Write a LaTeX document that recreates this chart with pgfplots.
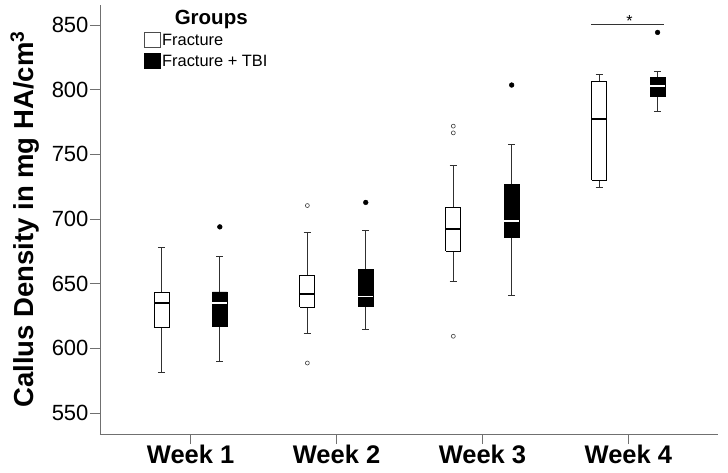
\documentclass[border=0pt]{standalone}
\usepackage{fontspec}
\setmainfont{Liberation Sans}
\usepackage{pgfplots}
\pgfplotsset{compat=1.18}
\definecolor{axisgray}{HTML}{707070}
\definecolor{whisk}{HTML}{303030}
% #1 centre, #2 lower whisker, #3 Q1, #4 median, #5 Q3, #6 upper whisker, #7 fill, #8 median colour
\newcommand\drawbox[8]{%
  \pgfmathsetmacro\bxl{#1-0.0515}%
  \pgfmathsetmacro\bxr{#1+0.0515}%
  \pgfmathsetmacro\cxl{#1-0.025}%
  \pgfmathsetmacro\cxr{#1+0.025}%
  \edef\tmpbox{%
    \noexpand\addplot[whisk, line width=0.9pt] coordinates {(#1,#5) (#1,#6)};
    \noexpand\addplot[whisk, line width=0.9pt] coordinates {(#1,#3) (#1,#2)};
    \noexpand\addplot[whisk, line width=0.9pt] coordinates {(\cxl,#6) (\cxr,#6)};
    \noexpand\addplot[whisk, line width=0.9pt] coordinates {(\cxl,#2) (\cxr,#2)};
    \noexpand\addplot[draw=black, fill=#7, line width=0.8pt] coordinates {(\bxl,#3) (\bxr,#3) (\bxr,#5) (\bxl,#5) (\bxl,#3)};
    \noexpand\addplot[#8, line width=1.8pt] coordinates {(\bxl,#4) (\bxr,#4)};
  }\tmpbox}
\begin{document}
\begin{tikzpicture}
\begin{axis}[
  at={(0,0)}, anchor=south west,
  scale only axis, width=618pt, height=429pt,
  xmin=0.379, xmax=4.614, ymin=533.7, ymax=865.5,
  axis lines=left, axis line style={axisgray, line width=0.8pt, -},
  xtick={1,2,3,4}, xticklabels={Week 1,Week 2,Week 3,Week 4},
  ytick={550,600,650,700,750,800,850},
  tick align=outside, major tick length=10pt,
  tick style={axisgray, line width=0.8pt},
  x tick label style={font=\bfseries\fontsize{25.5}{25.5}\selectfont, yshift=3pt},
  y tick label style={font=\fontsize{22}{22}\selectfont, xshift=2pt},
  /pgf/number format/assume math mode=true,
  ylabel={\bfseries Callus Density in mg HA/cm\textsuperscript{3}},
  ylabel style={font=\fontsize{27.5}{27.5}\selectfont, at={(axis description cs:-0.1084,0.5)}, anchor=base},
  clip=false,
]
% Week 1
\drawbox{0.8}{581.4}{616.5}{634.8}{643.3}{677.6}{white}{black}
\drawbox{1.2}{590.0}{616.6}{635.0}{643.6}{671.2}{black}{white}
% Week 2
\drawbox{1.8}{611.4}{631.7}{641.8}{656.3}{689.5}{white}{black}
\drawbox{2.2}{614.2}{632.3}{640.0}{661.2}{691.0}{black}{white}
% Week 3
\drawbox{2.8}{651.9}{675.3}{692.4}{709.1}{741.1}{white}{black}
\drawbox{3.2}{640.5}{685.4}{698.5}{726.9}{757.7}{black}{white}
% Week 4
\drawbox{3.8}{724.1}{729.8}{777.5}{806.1}{811.6}{white}{black}
\drawbox{4.2}{782.9}{794.5}{803.0}{809.5}{814.2}{black}{white}
% outliers
\addplot[only marks, mark=o, mark size=2pt, mark options={black!75, line width=0.6pt}]
  coordinates {(1.8,588.6) (1.8,710.4) (2.8,609.3) (2.8,766.6) (2.8,771.8)};
\addplot[only marks, mark=*, mark size=2.4pt, mark options={black}]
  coordinates {(1.2,693.9) (2.2,712.8) (3.2,803.6) (4.2,844.3)};
% significance
\addplot[black!80, line width=0.8pt] coordinates {(3.744,850.5) (4.242,850.5)};
\node[font=\fontsize{16}{16}\selectfont] at (axis cs:4.007,852.8) {*};
% legend
\node[font=\bfseries\fontsize{20.5}{20.5}\selectfont] at (rel axis cs:0.180,0.966) {Groups};
\draw[black!70, fill=white, line width=0.7pt] (rel axis cs:0.0712,0.902) rectangle (rel axis cs:0.0971,0.937);
\draw[black, fill=black] (rel axis cs:0.0712,0.853) rectangle (rel axis cs:0.0971,0.888);
\node[anchor=west, inner sep=0pt, font=\fontsize{16.4}{16.4}\selectfont] at (rel axis cs:0.1003,0.9196) {Fracture};
\node[anchor=west, inner sep=0pt, font=\fontsize{16.4}{16.4}\selectfont] at (rel axis cs:0.1003,0.8700) {Fracture + TBI};
\end{axis}
\pgfresetboundingbox
\path[use as bounding box] (-100pt,-38pt) rectangle (628pt,434pt);
\end{tikzpicture}
\end{document}
